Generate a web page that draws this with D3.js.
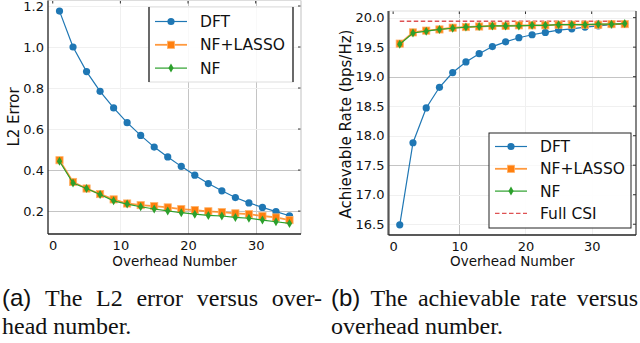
<!DOCTYPE html>
<head>
  <meta charset="utf-8">
  <style>
    body { margin: 0; background: #fff; }
    svg text { font-family: "DejaVu Sans", sans-serif; fill: #111; }
    svg .grid { stroke: #c4c4c4; stroke-width: 1px; }
    svg .grid.faint { stroke: #f0f0f0; }
    svg .cap { font-family: "Liberation Serif", "Times New Roman", serif; font-size: 24px; }
    svg .capsans { font-family: "Liberation Sans", Arial, sans-serif; font-size: 24px; }
  </style>
</head>
<body>
<script src="https://d3js.org/d3.v7.min.js"></script>
<script>
// overhead numbers on the x axis
var overhead = [1, 3, 5, 7, 9, 11, 13, 15, 17, 19, 21, 23, 25, 27, 29, 31, 33, 35];

// (a) L2 error
var errDFT   = [1.175, 1.0, 0.88, 0.784, 0.703, 0.631, 0.569, 0.512, 0.464, 0.418, 0.375, 0.334, 0.299, 0.266, 0.240, 0.218, 0.197, 0.177];
var errLasso = [0.448, 0.342, 0.310, 0.283, 0.257, 0.237, 0.229, 0.224, 0.218, 0.210, 0.205, 0.199, 0.195, 0.189, 0.185, 0.176, 0.169, 0.156];
var errNF    = [0.443, 0.337, 0.310, 0.281, 0.250, 0.234, 0.221, 0.210, 0.201, 0.192, 0.185, 0.179, 0.176, 0.169, 0.165, 0.156, 0.148, 0.140];

// (b) achievable rate
var rateDFT   = [16.49, 17.88, 18.47, 18.82, 19.07, 19.25, 19.39, 19.51, 19.59, 19.66, 19.71, 19.75, 19.79, 19.81, 19.84, 19.86, 19.88, 19.89];
var rateLasso = [19.56, 19.75, 19.78, 19.80, 19.83, 19.84, 19.85, 19.86, 19.86, 19.87, 19.87, 19.87, 19.88, 19.88, 19.88, 19.88, 19.89, 19.89];
var rateNF    = [19.55, 19.74, 19.77, 19.80, 19.82, 19.84, 19.85, 19.86, 19.86, 19.86, 19.87, 19.87, 19.88, 19.88, 19.88, 19.89, 19.89, 19.90];
var fullCSI   = 19.94;

var xTicks = [0, 10, 20, 30];
var errTicks = [0.2, 0.4, 0.6, 0.8, 1.0, 1.2];
var rateTicks = [16.5, 17.0, 17.5, 18.0, 18.5, 19.0, 19.5, 20.0];

var C = { dft: "#1f77b4", lasso: "#ff7f0e", nf: "#2ca02c", csi: "#d62728" };

var svg = d3.select("body").append("svg")
    .attr("width", 640).attr("height", 343);

function padded(vals) {
  var e = d3.extent(vals), p = (e[1] - e[0]) * 0.05;
  return [e[0] - p, e[1] + p];
}

function marker(g, kind, x, y, color) {
  if (kind === "o") {
    g.append("circle").attr("cx", x).attr("cy", y).attr("r", 3.6).attr("fill", color);
  } else if (kind === "s") {
    g.append("rect").attr("x", x - 3.6).attr("y", y - 3.6).attr("width", 7.2).attr("height", 7.2)
      .attr("fill", color).attr("stroke", "#ffb36b").attr("stroke-width", 0.8);
  } else {
    g.append("path").attr("d", "M" + x + "," + (y - 4.5) + "L" + (x + 2.6) + "," + y + "L" + x + "," + (y + 4.5) + "L" + (x - 2.6) + "," + y + "Z")
      .attr("fill", color);
  }
}

function panel(o) {
  var g = svg.append("g");
  var x = d3.scaleLinear().domain(padded(overhead)).range(o.xr);
  var y = d3.scaleLinear().domain(o.ydom).range(o.yr);
  var x0 = o.xr[0], x1 = o.xr[1], y0 = o.yr[0], y1 = o.yr[1];

  // grid
  g.selectAll(".vg").data(xTicks.filter(function (d) { return d > 0; })).enter().append("line")
    .attr("class", function (d) { return o.vgrid.indexOf(d) >= 0 ? "grid" : "grid faint"; })
    .attr("x1", function (d) { return Math.round(x(d)) + 0.5; }).attr("x2", function (d) { return Math.round(x(d)) + 0.5; })
    .attr("y1", y0).attr("y2", y1);
  g.selectAll(".hg").data(o.yticks).enter().append("line")
    .attr("class", function (d) { return o.hgrid.indexOf(d) >= 0 ? "grid" : "grid faint"; })
    .attr("y1", function (d) { return Math.round(y(d)) + 0.5; }).attr("y2", function (d) { return Math.round(y(d)) + 0.5; })
    .attr("x1", x0).attr("x2", x1);

  // axes (labels only, frame drawn below)
  var ax = g.append("g").attr("transform", "translate(0," + y0 + ")")
    .call(d3.axisBottom(x).tickValues(xTicks).tickSize(0).tickPadding(4).tickFormat(d3.format("d")));
  var ay = g.append("g").attr("transform", "translate(" + x0 + ",0)")
    .call(d3.axisLeft(y).tickValues(o.yticks).tickSize(0).tickPadding(4).tickFormat(d3.format(".1f")));
  ax.select(".domain").remove(); ay.select(".domain").remove();
  g.selectAll(".tick text").style("font-family", "DejaVu Sans").style("font-size", "13px").attr("fill", "#111");
  ax.selectAll(".tick text").attr("dy", "0.9em");

  // small inward ticks on right and top
  g.selectAll(".rt").data(o.yticks).enter().append("line")
    .attr("x1", x1 - 3).attr("x2", x1).attr("y1", function (d) { return y(d); }).attr("y2", function (d) { return y(d); })
    .attr("stroke", "#333");
  g.selectAll(".tt").data(xTicks).enter().append("line")
    .attr("y1", y1).attr("y2", y1 + 3).attr("x1", function (d) { return x(d); }).attr("x2", function (d) { return x(d); })
    .attr("stroke", "#333");

  // frame
  g.append("line").attr("x1", x0).attr("x2", x1).attr("y1", y1).attr("y2", y1).attr("stroke", o.topCol);
  g.append("line").attr("x1", x1).attr("x2", x1).attr("y1", y0).attr("y2", y1).attr("stroke", o.rightCol).attr("stroke-width", 1.2);
  g.append("line").attr("x1", x0).attr("x2", x0).attr("y1", y0).attr("y2", y1).attr("stroke", o.leftCol).attr("stroke-width", o.leftW);
  g.append("line").attr("x1", x0).attr("x2", x1).attr("y1", y0).attr("y2", y0).attr("stroke", "#222").attr("stroke-width", 1.3);

  // axis titles
  g.append("text").attr("x", (x0 + x1) / 2).attr("y", o.xlabY).attr("text-anchor", "middle")
    .style("font-size", "13.5px").text("Overhead Number");
  g.append("text").attr("transform", "translate(" + o.ylabX + "," + o.ylabY + ") rotate(-90)")
    .attr("text-anchor", "middle").style("font-size", "15px").text(o.ylabel);

  // full CSI reference
  if (o.ref !== undefined) {
    g.append("line").attr("x1", x(1)).attr("x2", x(35)).attr("y1", y(o.ref)).attr("y2", y(o.ref))
      .attr("stroke", C.csi).attr("stroke-opacity", 0.8).attr("stroke-width", 1.4).attr("stroke-dasharray", "4.5,2.5");
  }

  // series
  var line = d3.line().x(function (d) { return x(d[0]); }).y(function (d) { return y(d[1]); });
  o.series.forEach(function (s) {
    var pts = d3.zip(overhead, s.vals);
    g.append("path").attr("d", line(pts)).attr("fill", "none").attr("stroke", s.color)
      .attr("stroke-width", s.w).attr("stroke-opacity", s.op);
    pts.forEach(function (p) { marker(g, s.mk, x(p[0]), y(p[1]), s.color); });
  });

  // legend
  var L = o.legend;
  var lg = g.append("g");
  lg.append("rect").attr("x", L.x).attr("y", L.y).attr("width", L.w).attr("height", L.h)
    .attr("fill", "#fff").attr("fill-opacity", 0.9).attr("stroke", L.frame).attr("stroke-width", 1);
  if (L.sides) {
    lg.append("line").attr("x1", L.x).attr("x2", L.x).attr("y1", L.y).attr("y2", L.y + L.h).attr("stroke", "#222").attr("stroke-width", 1.3);
    lg.append("line").attr("x1", L.x + L.w).attr("x2", L.x + L.w).attr("y1", L.y).attr("y2", L.y + L.h).attr("stroke", "#222").attr("stroke-width", 1.3);
  }
  L.items.forEach(function (it, i) {
    var yy = L.y + L.top + i * L.step;
    var lx = L.x + 6;
    var ln = lg.append("line").attr("x1", lx).attr("x2", lx + 32).attr("y1", yy).attr("y2", yy)
      .attr("stroke", it.color).attr("stroke-width", it.w).attr("stroke-opacity", it.op);
    if (it.dash) ln.attr("stroke-dasharray", "4.5,2.5");
    if (it.mk) marker(lg, it.mk, lx + 16, yy, it.color);
    lg.append("text").attr("x", lx + 45).attr("y", yy).attr("dy", "0.36em")
      .style("font-size", "15.5px").text(it.label);
  });
}

var itemsA = [
  { label: "DFT", color: C.dft, mk: "o", w: 1.2, op: 1 },
  { label: "NF+LASSO", color: C.lasso, mk: "s", w: 1.8, op: 0.8 },
  { label: "NF", color: C.nf, mk: "d", w: 1.2, op: 1 }
];

panel({
  xr: [48, 301], yr: [234, 0.5], ydom: padded(errDFT.concat(errLasso, errNF)), yticks: errTicks,
  vgrid: [20, 30], hgrid: [0.2, 0.4],
  topCol: "#ddd", rightCol: "#ccc", leftCol: "#222", leftW: 1.3,
  xlabY: 266, ylabX: 19, ylabY: 117, ylabel: "L2 Error",
  series: [
    { vals: errDFT, color: C.dft, mk: "o", w: 1.2, op: 1 },
    { vals: errLasso, color: C.lasso, mk: "s", w: 1.8, op: 0.8 },
    { vals: errNF, color: C.nf, mk: "d", w: 1.2, op: 1 }
  ],
  legend: { x: 149, y: 7, w: 144, h: 75, top: 14.5, step: 23.3, frame: "#ddd", sides: true, items: itemsA }
});

panel({
  xr: [388.5, 636], yr: [235, 11], ydom: padded(rateDFT.concat(rateLasso, rateNF, [fullCSI])), yticks: rateTicks,
  vgrid: [10], hgrid: [19.0, 17.5],
  topCol: "#ddd", rightCol: "#333", leftCol: "#555", leftW: 2.2,
  xlabY: 266, ylabX: 351, ylabY: 124, ylabel: "Achievable Rate (bps/Hz)", ref: fullCSI,
  series: [
    { vals: rateDFT, color: C.dft, mk: "o", w: 1.2, op: 1 },
    { vals: rateLasso, color: C.lasso, mk: "s", w: 1.8, op: 0.8 },
    { vals: rateNF, color: C.nf, mk: "d", w: 1.2, op: 1 }
  ],
  legend: { x: 489, y: 133, w: 142, h: 95, top: 13.5, step: 22.3, frame: "#222", sides: false,
    items: itemsA.concat([{ label: "Full CSI", color: C.csi, w: 1.4, op: 0.8, dash: true }]) }
});

// captions, first line justified to the column width
var captions = [
  { x0: 2, x1: 322, lines: [["(a)", "The", "L2", "error", "versus", "over-"], ["head", "number."]] },
  { x0: 331, x1: 638, lines: [["(b)", "The", "achievable", "rate", "versus"], ["overhead", "number."]] }
];
var capBase = [306, 334];

captions.forEach(function (c) {
  c.lines.forEach(function (words, li) {
    var nodes = words.map(function (w, wi) {
      return svg.append("text").attr("class", (li === 0 && wi === 0) ? "capsans" : "cap")
        .attr("y", capBase[li]).text(w);
    });
    var widths = nodes.map(function (n) { return n.node().getComputedTextLength(); });
    var gap = li === 0 ? (c.x1 - c.x0 - d3.sum(widths)) / (words.length - 1) : 6;
    var cx = c.x0;
    nodes.forEach(function (n, i) { n.attr("x", cx); cx += widths[i] + gap; });
  });
});
</script>
</body>
</html>
